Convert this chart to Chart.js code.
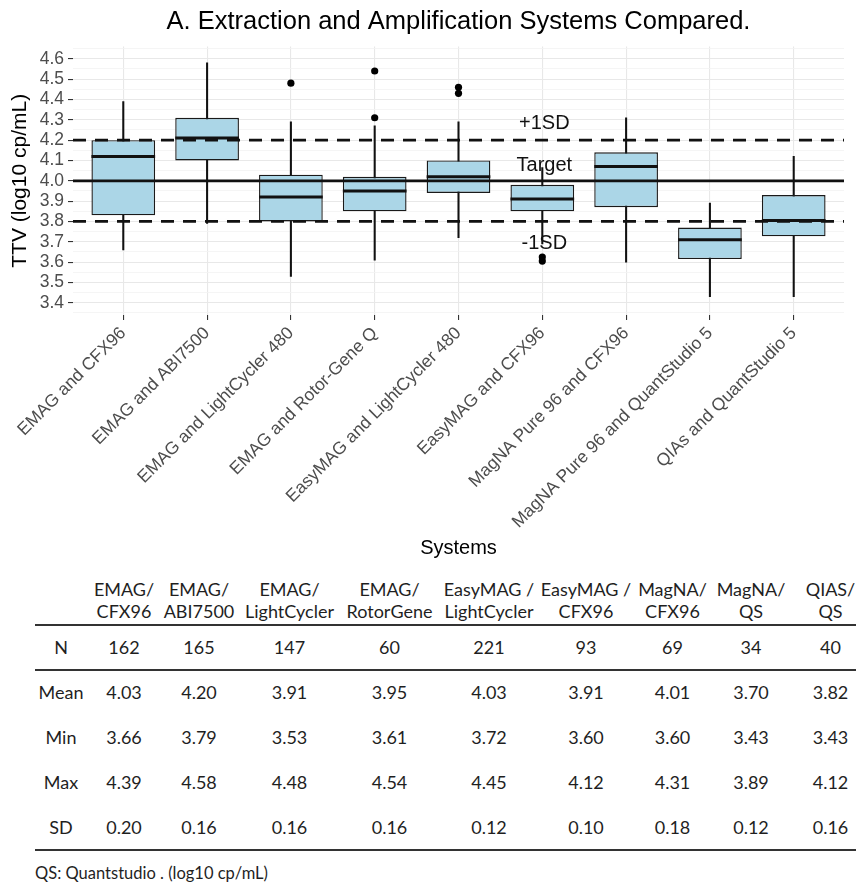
<!DOCTYPE html>
<html>
<head>
<meta charset="utf-8">
<script src="https://cdn.jsdelivr.net/npm/chart.js@4.4.1/dist/chart.umd.min.js"></script>
<style>
  body { margin: 0; background: #fff; overflow: hidden; width: 856px; height: 885px; position: relative; }
  #chart { position: absolute; left: 0; top: 0; }
  #stats { position: absolute; left: 30px; top: 575px; border-collapse: collapse; table-layout: fixed;
           font-family: Lato, 'Open Sans', sans-serif; font-size: 18px; color: #1f1f1f; }
  #stats td { padding: 0; text-align: center; white-space: nowrap; }
  #stats tr.head td { height: 50px; line-height: 22px; vertical-align: middle; }
  #stats tr.body td { height: 45px; line-height: 45px; }
  .rule { position: absolute; left: 35px; width: 821px; height: 2px; background: #333; }
  #note { position: absolute; left: 35px; top: 862px; font-family: Lato, 'Open Sans', sans-serif;
          font-size: 16.5px; color: #1f1f1f; line-height: 22px; }
</style>
</head>
<body>
<canvas id="chart" width="856" height="570"></canvas>
<table id="stats"></table>
<div class="rule" style="top:624px"></div>
<div class="rule" style="top:669px"></div>
<div class="rule" style="top:849px"></div>
<div id="note">QS: Quantstudio . (log10 cp/mL)</div>
<script>
// boxplot data
const systems = ['EMAG and CFX96', 'EMAG and ABI7500', 'EMAG and LightCycler 480', 'EMAG and Rotor-Gene Q',
  'EasyMAG and LightCycler 480', 'EasyMAG and CFX96', 'MagNA Pure 96 and CFX96',
  'MagNA Pure 96 and QuantStudio 5', 'QIAs and QuantStudio 5'];
const q1 = [3.83, 4.10, 3.80, 3.85, 3.94, 3.85, 3.87, 3.615, 3.727];
const q3 = [4.20, 4.31, 4.03, 4.02, 4.10, 3.98, 4.14, 3.77, 3.93];
const medians = [4.12, 4.21, 3.92, 3.95, 4.02, 3.91, 4.07, 3.71, 3.805];
const whiskerLow = [3.66, 3.79, 3.53, 3.61, 3.72, 3.69, 3.60, 3.43, 3.43];
const whiskerHigh = [4.39, 4.58, 4.29, 4.27, 4.29, 4.065, 4.31, 3.89, 4.12];
const outlierX = [3, 4, 4, 5, 5, 6, 6];
const outlierY = [4.48, 4.54, 4.31, 4.46, 4.43, 3.625, 3.605];

// reference lines and their labels
const refValues = [4.2, 4.0, 3.8];
const refDashed = [true, false, true];
const refLabels = ['+1SD', 'Target', '-1SD'];
const refLabelY = [4.28, 4.075, 3.69];
const refLabelX = 6;

// summary table
const tableHeads = [['EMAG/', 'CFX96'], ['EMAG/', 'ABI7500'], ['EMAG/', 'LightCycler'], ['EMAG/', 'RotorGene'],
  ['EasyMAG /', 'LightCycler'], ['EasyMAG /', 'CFX96'], ['MagNA/', 'CFX96'], ['MagNA/', 'QS'], ['QIAS/', 'QS']];
const tableN = ['162', '165', '147', '60', '221', '93', '69', '34', '40'];
const tableMean = ['4.03', '4.20', '3.91', '3.95', '4.03', '3.91', '4.01', '3.70', '3.82'];
const tableMin = ['3.66', '3.79', '3.53', '3.61', '3.72', '3.60', '3.60', '3.43', '3.43'];
const tableMax = ['4.39', '4.58', '4.48', '4.54', '4.45', '4.12', '4.31', '3.89', '4.12'];
const tableSD = ['0.20', '0.16', '0.16', '0.16', '0.12', '0.10', '0.18', '0.12', '0.16'];
const colWidths = [62, 64, 86, 95, 105, 94, 100, 73, 84, 75];

// y ticks every 0.05, labels on the 0.1 ones
const yTicks = [];
for (let k = 0; k <= 26; k++) yTicks.push(Math.round((3.35 + k * 0.05) * 100) / 100);
const isMajor = v => Math.round(v * 100) % 10 === 0;

const FONT = "'Liberation Sans', Arial, sans-serif";
Chart.defaults.font.family = FONT;

const boxPlugin = {
  id: 'boxExtras',
  afterDatasetsDraw(chart) {
    const { ctx, chartArea, scales } = chart;
    const meta = chart.getDatasetMeta(1);
    ctx.save();
    // medians
    ctx.strokeStyle = '#111';
    ctx.lineWidth = 3;
    meta.data.forEach((el, i) => {
      const y = scales.y.getPixelForValue(medians[i]);
      ctx.beginPath();
      ctx.moveTo(el.x - el.width / 2, y);
      ctx.lineTo(el.x + el.width / 2, y);
      ctx.stroke();
    });
    // target and +/-1SD lines
    refValues.forEach((v, i) => {
      const y = scales.y.getPixelForValue(v);
      ctx.setLineDash(refDashed[i] ? [13, 9] : []);
      ctx.lineWidth = 2.8;
      ctx.beginPath();
      ctx.moveTo(chartArea.left, y);
      ctx.lineTo(chartArea.right, y);
      ctx.stroke();
    });
    ctx.setLineDash([]);
    ctx.fillStyle = '#111';
    ctx.font = '20px ' + FONT;
    ctx.textAlign = 'center';
    ctx.textBaseline = 'middle';
    refLabels.forEach((t, i) => {
      ctx.fillText(t, scales.x.getPixelForValue(refLabelX) + 2, scales.y.getPixelForValue(refLabelY[i]));
    });
    ctx.restore();
  }
};

new Chart(document.getElementById('chart'), {
  type: 'bar',
  data: {
    datasets: [
      {
        // whiskers
        type: 'bar',
        data: systems.map((s, i) => ({ x: i + 1, y: [whiskerLow[i], whiskerHigh[i]] })),
        backgroundColor: '#111',
        barThickness: 1.4,
        grouped: false,
        order: 3
      },
      {
        // boxes
        type: 'bar',
        data: systems.map((s, i) => ({ x: i + 1, y: [q1[i], q3[i]] })),
        backgroundColor: '#abd6e7',
        borderColor: '#1a1a1a',
        borderWidth: 1.4,
        borderSkipped: false,
        categoryPercentage: 1,
        barPercentage: 0.76,
        grouped: false,
        order: 2
      },
      {
        type: 'scatter',
        data: outlierX.map((x, i) => ({ x: x, y: outlierY[i] })),
        backgroundColor: '#000',
        borderWidth: 0,
        pointRadius: 3.6,
        order: 1
      }
    ]
  },
  options: {
    responsive: false,
    animation: false,
    layout: { padding: { left: 0, right: 12, top: 0, bottom: 0 } },
    plugins: {
      legend: { display: false },
      tooltip: { enabled: false },
      title: {
        display: true,
        fullSize: false,
        text: 'A. Extraction and Amplification Systems Compared.',
        color: '#000',
        font: { size: 25.5, weight: 'normal', family: FONT },
        padding: { top: 7, bottom: 9 }
      }
    },
    scales: {
      x: {
        type: 'linear',
        min: 0.4,
        max: 9.6,
        offset: false,
        afterBuildTicks(s) { s.ticks = systems.map((n, i) => ({ value: i + 1 })); },
        afterFit(s) { s.height = 255; },
        border: { display: false },
        grid: { offset: false, color: '#e8e8e8', lineWidth: 1.1, tickLength: 5, tickColor: '#333', tickWidth: 1.1 },
        ticks: {
          autoSkip: false,
          minRotation: 45,
          maxRotation: 45,
          padding: 3,
          color: '#4d4d4d',
          font: { size: 17.5, family: FONT },
          callback: v => systems[Math.round(v) - 1]
        },
        title: { display: true, text: 'Systems', color: '#000', font: { size: 20, family: FONT }, padding: { top: 0, bottom: 10 } }
      },
      y: {
        min: 3.34,
        max: 4.66,
        afterBuildTicks(s) { s.ticks = yTicks.map(v => ({ value: v })); },
        afterFit(s) { s.width = 73; },
        border: { display: false },
        grid: {
          color: c => isMajor(c.tick.value) ? '#e8e8e8' : '#f3f3f3',
          lineWidth: c => isMajor(c.tick.value) ? 1.1 : 0.8,
          tickLength: 5,
          tickColor: c => isMajor(c.tick.value) ? '#333' : 'rgba(0,0,0,0)',
          tickWidth: 1.1
        },
        ticks: {
          autoSkip: false,
          padding: 4,
          color: '#4d4d4d',
          font: { size: 17.5, family: FONT },
          callback: v => isMajor(v) ? v.toFixed(1) : ''
        },
        title: { display: true, text: 'TTV (log10 cp/mL)', color: '#000', font: { size: 21, family: FONT }, padding: { top: 8, bottom: 0 } }
      }
    }
  },
  plugins: [boxPlugin]
});

// table below the chart
const table = document.getElementById('stats');
const colgroup = document.createElement('colgroup');
colWidths.forEach(w => {
  const col = document.createElement('col');
  col.style.width = w + 'px';
  colgroup.appendChild(col);
});
table.appendChild(colgroup);
table.style.width = colWidths.reduce((a, b) => a + b, 0) + 'px';

function addRow(cls, label, cells) {
  const tr = document.createElement('tr');
  tr.className = cls;
  [label].concat(cells).forEach(c => {
    const td = document.createElement('td');
    td.innerHTML = c;
    tr.appendChild(td);
  });
  table.appendChild(tr);
}
addRow('head', '', tableHeads.map(h => h.join('<br>')));
addRow('body', 'N', tableN);
addRow('body', 'Mean', tableMean);
addRow('body', 'Min', tableMin);
addRow('body', 'Max', tableMax);
addRow('body', 'SD', tableSD);
</script>
</body>
</html>
